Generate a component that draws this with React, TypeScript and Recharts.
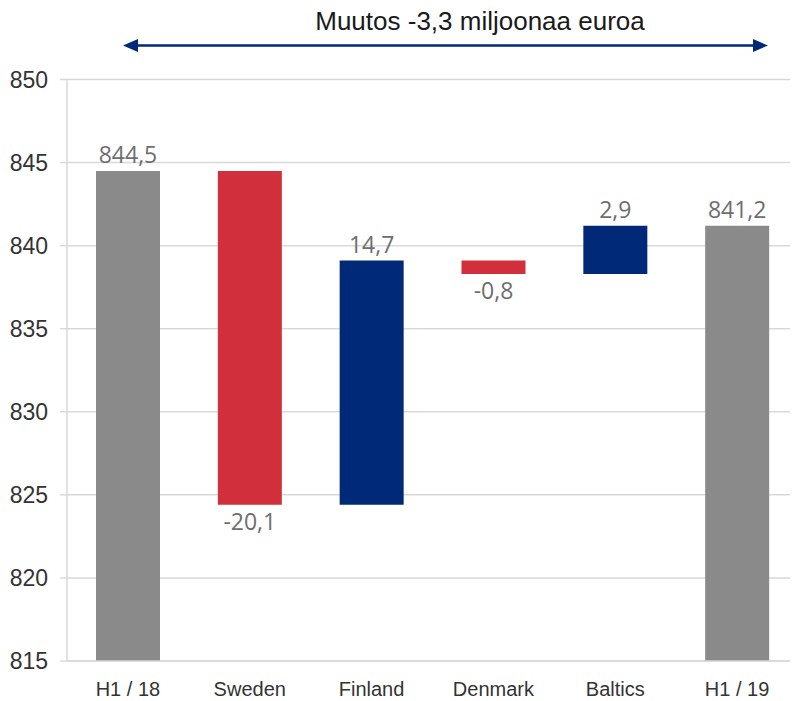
import React from "react";
import { BarChart, Bar, XAxis, YAxis, CartesianGrid, Cell } from "recharts";

const categories = ["H1 / 18", "Sweden", "Finland", "Denmark", "Baltics", "H1 / 19"];
const values = [844.5, -20.1, 14.7, -0.8, 2.9, 841.2];
const kinds = ["total", "delta", "delta", "delta", "delta", "total"];
const yTicks = [815, 820, 825, 830, 835, 840, 845, 850];
const boundaryTicks = [0, 1, 2, 3, 4, 5, 6];
const titleText = "Muutos -3,3 miljoonaa euroa";

const GRAY = "#8a8a8a";
const RED = "#d12f3b";
const NAVY = "#002a78";
const AXIS_MIN = 815;

const data = (() => {
  let running = 0;
  return categories.map((name, i) => {
    const v = values[i];
    let low: number, high: number;
    if (kinds[i] === "total") {
      low = AXIS_MIN;
      high = v;
      running = v;
    } else {
      const start = running;
      running = +(running + v).toFixed(1);
      low = Math.min(start, running);
      high = Math.max(start, running);
    }
    return { name, value: v, kind: kinds[i], range: [low, high] };
  });
})();

const fmt = (v: number) => v.toFixed(1).replace(".", ",");

const colorFor = (d: any) => (d.kind === "total" ? GRAY : d.value < 0 ? RED : NAVY);

const BarLabel = (props: any) => {
  const { x, y, width, height, index } = props;
  const d = data[index];
  if (!d) return null;
  const top = Math.min(y, y + height);
  const bottom = Math.max(y, y + height);
  const cx = x + width / 2;
  const below = d.kind !== "total" && d.value < 0;
  return (
    <text
      x={cx}
      y={below ? bottom + 25 : top - 8}
      textAnchor="middle"
      fill="#6e6e6e"
      fontSize={23}
      fontFamily="'Open Sans', sans-serif"
    >
      {fmt(d.value)}
    </text>
  );
};

export default function App() {
  return (
    <div style={{ position: "relative", width: 790, height: 693 }}>
      <BarChart
        width={790}
        height={693}
        data={data}
        margin={{ top: 71.5, right: 0, left: 0, bottom: 0 }}
        style={{ fontFamily: "'Liberation Sans', Arial, sans-serif" }}
      >
        <CartesianGrid vertical={false} stroke="#d9d9d9" strokeWidth={1.5} />
        <XAxis
          xAxisId="grid"
          type="number"
          domain={[0, 6]}
          ticks={boundaryTicks}
          height={0}
          axisLine={false}
          tick={false}
          tickLine={{ stroke: "#d0d0d0", strokeWidth: 1.5 }}
          tickSize={7}
        />
        <XAxis
          dataKey="name"
          height={40}
          tickLine={false}
          axisLine={{ stroke: "#d9d9d9", strokeWidth: 1.5 }}
          tickMargin={14}
          tickSize={7}
          tick={{ fill: "#333333", fontSize: 20 }}
          interval={0}
        />
        <YAxis
          domain={[815, 850]}
          ticks={yTicks}
          width={59}
          allowDataOverflow
          axisLine={{ stroke: "#d9d9d9", strokeWidth: 1.5 }}
          tickLine={{ stroke: "#d9d9d9", strokeWidth: 1.5 }}
          tickSize={7}
          tickMargin={12}
          tick={{ fill: "#333333", fontSize: 23 }}
        />
        <Bar dataKey="range" barSize={64} isAnimationActive={false} label={<BarLabel />}>
          {data.map((d, i) => (
            <Cell key={i} fill={colorFor(d)} />
          ))}
        </Bar>
      </BarChart>
      <svg
        width={798}
        height={68}
        style={{ position: "absolute", left: -8, top: -8, pointerEvents: "none", overflow: "visible" }}
      >
        <text
          x={480}
          y={30}
          textAnchor="middle"
          fontSize={26}
          fill="#1a1a1a"
          fontFamily="'Liberation Sans', Arial, sans-serif"
        >
          {titleText}
        </text>
        <line x1={136} y1={45.5} x2={755} y2={45.5} stroke={NAVY} strokeWidth={2.5} />
        <polygon points="123,45.5 138,39 138,52" fill={NAVY} />
        <polygon points="768,45.5 753,39 753,52" fill={NAVY} />
      </svg>
    </div>
  );
}
